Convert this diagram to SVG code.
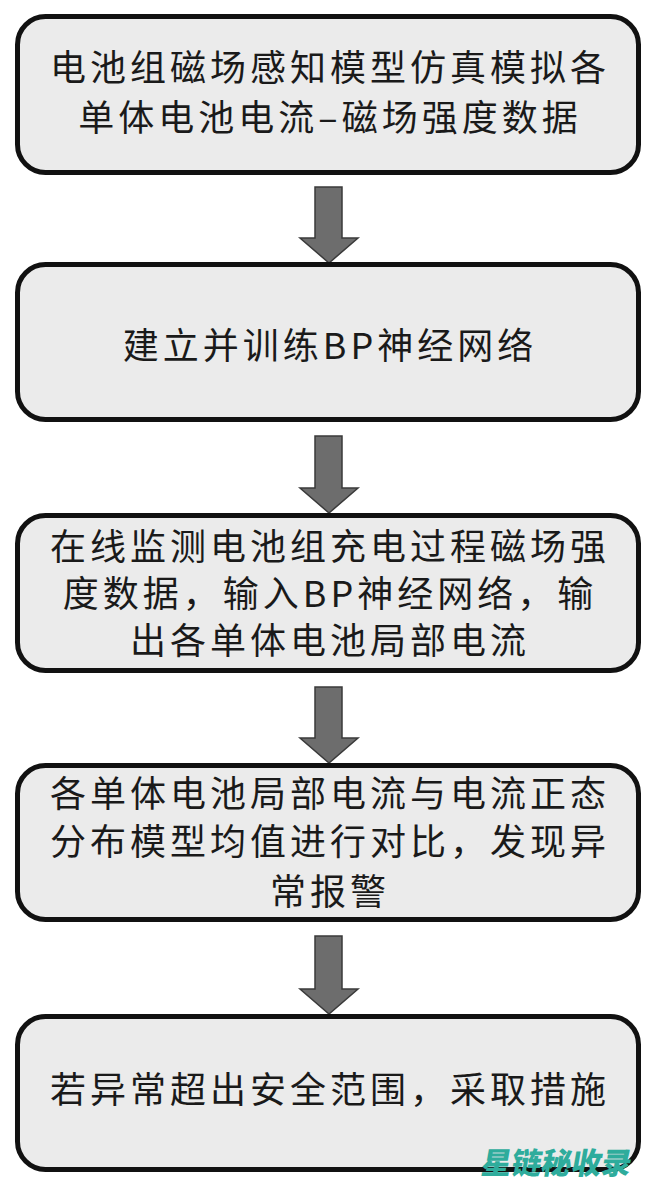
<svg xmlns="http://www.w3.org/2000/svg" width="657" height="1186" viewBox="0 0 657 1186">
<style>
.box{fill:#ebebeb;stroke:#111;stroke-width:5}
.t{font-family:"Noto Sans CJK SC","Noto Sans",sans-serif;font-size:36px;letter-spacing:4px;fill:#1a1a1a;text-anchor:middle}
.arr{fill:#6d6d6d;stroke:#3a3a3a;stroke-width:1.5;stroke-linejoin:miter}
.wm{font-family:"Noto Sans CJK SC",sans-serif;font-weight:900;font-size:30px;fill:#2eac9c}
</style>
<rect width="657" height="1186" fill="#ffffff"/>
<g id="connectors">
<path class="arr" d="M315,187 H342 V238 H358 L329,263 L300,238 H315 Z"/>
<path class="arr" d="M315,436 H342 V488 H358 L329,513 L300,488 H315 Z"/>
<path class="arr" d="M315,687 H342 V738 H358 L329,763 L300,738 H315 Z"/>
<path class="arr" d="M315,936 H342 V989 H358 L329,1014 L300,989 H315 Z"/>
</g>
<g id="node1">
<rect class="box" x="17.5" y="16.5" width="621" height="156" rx="28"/>
<text class="t" x="330" y="81">电池组磁场感知模型仿真模拟各</text>
<text class="t" x="330" y="131">单体电池电流–磁场强度数据</text>
</g>
<g id="node2">
<rect class="box" x="17.5" y="264.5" width="621" height="155" rx="28"/>
<text class="t" x="330" y="359">建立并训练BP神经网络</text>
</g>
<g id="node3">
<rect class="box" x="17.5" y="515.5" width="621" height="155" rx="28"/>
<text class="t" x="330" y="560">在线监测电池组充电过程磁场强</text>
<text class="t" x="330" y="607">度数据，输入BP神经网络，输</text>
<text class="t" x="330" y="654">出各单体电池局部电流</text>
</g>
<g id="node4">
<rect class="box" x="17.5" y="765.5" width="621" height="154" rx="28"/>
<text class="t" x="330" y="807">各单体电池局部电流与电流正态</text>
<text class="t" x="330" y="855">分布模型均值进行对比，发现异</text>
<text class="t" x="330" y="905">常报警</text>
</g>
<g id="node5">
<rect class="box" x="17.5" y="1016.5" width="621" height="153" rx="28"/>
<text class="t" x="330" y="1103">若异常超出安全范围，采取措施</text>
</g>
<g transform="translate(480,1174) skewX(-10)">
<text class="wm" x="0" y="0" textLength="150" lengthAdjust="spacingAndGlyphs">星链秘收录</text>
</g>
</svg>
